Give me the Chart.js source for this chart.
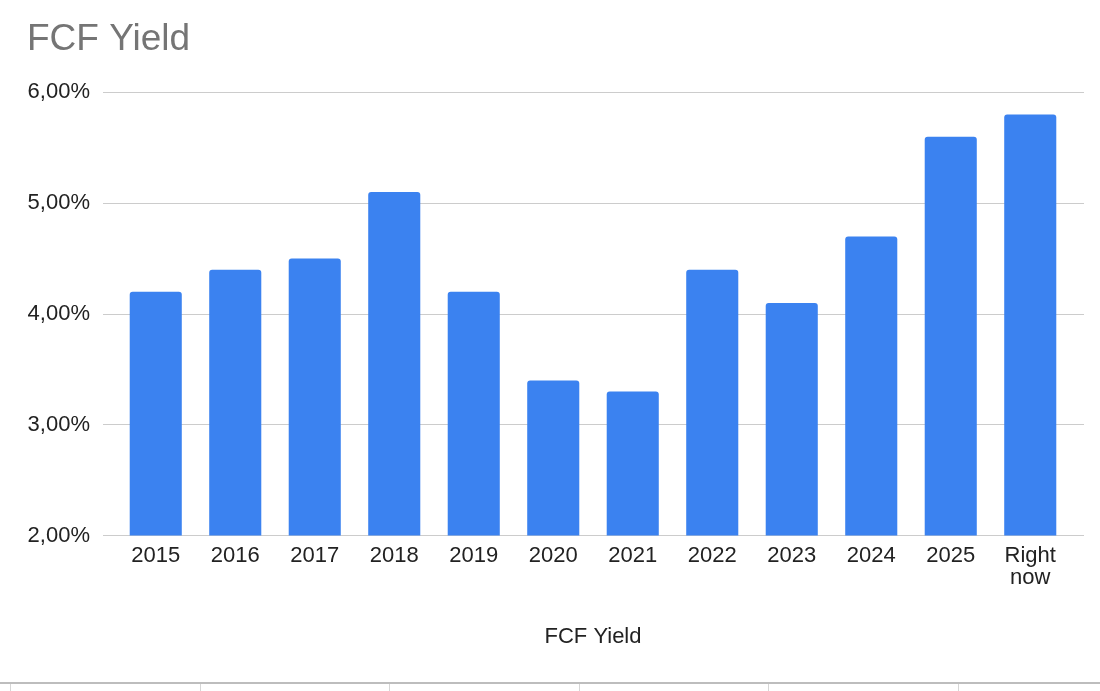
<!DOCTYPE html>
<html>
<head>
<meta charset="utf-8">
<script src="https://cdn.jsdelivr.net/npm/chart.js@4"></script>
<style>
  body { margin: 0; background: #fff; }
  #wrap { position: relative; width: 1100px; height: 691px; overflow: hidden; }
  #sheetLine { position: absolute; left: 0; top: 682px; width: 1100px; height: 2px; background: #bdbdbd; }
  .cellTick { position: absolute; top: 684px; width: 1px; height: 7px; background: #d6d6d6; }
</style>
</head>
<body>
<div id="wrap">
  <canvas id="myChart" width="1100" height="680"></canvas>
  <div id="sheetLine"></div>
</div>
<script>
// categories and values (percent)
const years = ["2015", "2016", "2017", "2018", "2019", "2020", "2021", "2022", "2023", "2024", "2025", ["Right", "now"]];
const fcfYield = [4.2, 4.4, 4.5, 5.1, 4.2, 3.4, 3.3, 4.4, 4.1, 4.7, 5.6, 5.8];
const yTicks = [2, 3, 4, 5, 6];

// spreadsheet cell borders under the chart
const cellEdges = [10, 200, 389, 579, 768, 958];
const wrap = document.querySelector("#wrap");
cellEdges.forEach(x => {
    let d = document.createElement("div");
    d.className = "cellTick";
    d.style.left = x + "px";
    wrap.appendChild(d);
});

const fontFam = "'Liberation Sans', Arial, Helvetica, sans-serif";
const gridColor = "#cccccc";

let config = {
    type: "bar",
    data: {
        labels: years,
        datasets: [{
            label: "FCF Yield",
            data: fcfYield,
            backgroundColor: "#3b82f0",
            borderRadius: { topLeft: 3, topRight: 3 },
            borderSkipped: "bottom",
            categoryPercentage: 1,
            barPercentage: 0.655
        }]
    },
    options: {
        responsive: false,
        animation: false,
        layout: { padding: { left: 27, right: 16, top: 0, bottom: 30 } },
        plugins: {
            legend: { display: false },
            tooltip: { enabled: false },
            title: {
                display: true,
                text: "FCF Yield",
                align: "start",
                color: "#757575",
                font: { family: fontFam, size: 37, weight: "normal", lineHeight: 1.2 },
                padding: { top: 18, bottom: 30 }
            }
        },
        scales: {
            x: {
                grid: { display: false },
                border: { display: false },
                ticks: {
                    color: "#222",
                    font: { family: fontFam, size: 22, lineHeight: 1 },
                    padding: 1,
                    maxRotation: 0,
                    autoSkip: false
                },
                title: {
                    display: true,
                    text: "FCF Yield",
                    color: "#222",
                    font: { family: fontFam, size: 22, lineHeight: 1.2 },
                    padding: { top: 34, bottom: 0 }
                }
            },
            y: {
                min: yTicks[0],
                max: yTicks[yTicks.length - 1],
                afterBuildTicks: axis => { axis.ticks = yTicks.map(v => ({ value: v })); },
                afterFit: axis => { axis.width = 89; },
                grid: { color: gridColor, drawTicks: true, tickLength: 13 },
                border: { display: false },
                ticks: {
                    color: "#222",
                    padding: 13,
                    font: { family: fontFam, size: 22 },
                    callback: v => v.toFixed(2).replace(".", ",") + "%"
                }
            },
            y2: {
                position: "right",
                min: yTicks[0],
                max: yTicks[yTicks.length - 1],
                afterBuildTicks: axis => { axis.ticks = yTicks.map(v => ({ value: v })); },
                afterFit: axis => { axis.width = 14; },
                grid: { color: gridColor, drawOnChartArea: false, drawTicks: true, tickLength: 14 },
                border: { display: false },
                ticks: { display: false }
            }
        }
    }
};

let myChart = new Chart("myChart", config);
</script>
</body>
</html>
